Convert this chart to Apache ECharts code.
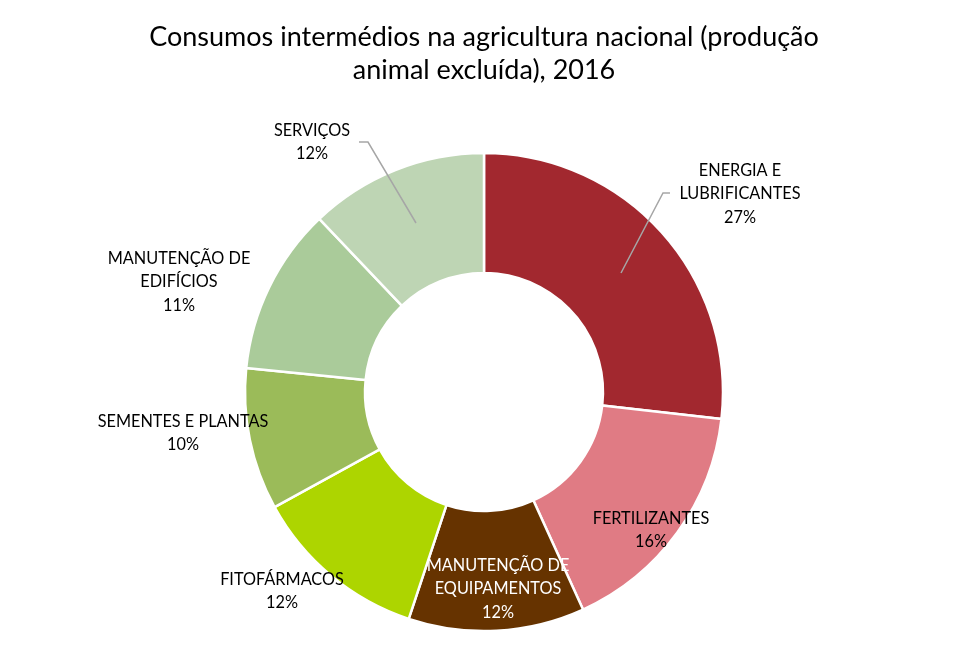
<!DOCTYPE html>
<html>
<head>
<meta charset="utf-8">
<script src="https://cdn.jsdelivr.net/npm/echarts@6/dist/echarts.min.js"></script>
<style>html,body{margin:0;padding:0;background:#fff}#c{width:968px;height:656px}</style>
</head>
<body>
<div id="c"></div>
<script>
const titleText = 'Consumos intermédios na agricultura nacional (produção\nanimal excluída), 2016';
const categories = ['ENERGIA E\nLUBRIFICANTES', 'FERTILIZANTES', 'MANUTENÇÃO DE\nEQUIPAMENTOS', 'FITOFÁRMACOS', 'SEMENTES E PLANTAS', 'MANUTENÇÃO DE\nEDIFÍCIOS', 'SERVIÇOS'];
const values = [26.8, 16.4, 11.9, 11.9, 9.6, 11.3, 12.1];
const colors = ['#A2282F', '#E07B84', '#663300', '#ADD500', '#9BBB59', '#AACB9A', '#BED5B4'];

const labelPos = [
  {x: 740, y: 194, line: [[670, 193], [663, 193], [621, 273]]},
  {x: 651, y: 530},
  {x: 498, y: 589, color: '#ffffff'},
  {x: 282, y: 591},
  {x: 183, y: 433},
  {x: 179, y: 282},
  {x: 312, y: 142, line: [[359, 142], [368, 142], [416, 223]]}
];

const chart = echarts.init(document.getElementById('c'));
const font = 'Lato, "Open Sans", sans-serif';
chart.setOption({
  animation: false,
  title: {
    text: titleText,
    left: 'center',
    top: 16,
    textStyle: {fontFamily: font, fontSize: 27, fontWeight: 'normal', color: '#000', lineHeight: 33}
  },
  graphic: labelPos.filter(l => l.line).map(l => ({
    type: 'polyline',
    z: 100,
    shape: {points: l.line},
    style: {stroke: '#A6A6A6', lineWidth: 1.5, fill: null}
  })),
  series: [{
    type: 'pie',
    center: [484, 392],
    radius: [119, 239],
    startAngle: 90,
    clockwise: true,
    percentPrecision: 0,
    itemStyle: {borderColor: '#fff', borderWidth: 2.5},
    label: {
      show: true,
      position: 'outside',
      formatter: '{b}\n{d}%',
      fontFamily: font,
      fontSize: 16.3,
      lineHeight: 23.5,
      color: '#000',
      align: 'center'
    },
    labelLine: {show: false},
    labelLayout: function (p) {
      const lp = labelPos[p.dataIndex];
      return {x: lp.x, y: lp.y, align: 'center', verticalAlign: 'middle'};
    },
    emphasis: {disabled: true},
    data: categories.map((c, i) => ({
      name: c,
      value: values[i],
      itemStyle: {color: colors[i]},
      label: labelPos[i].color ? {color: labelPos[i].color} : undefined
    }))
  }]
});
</script>
</body>
</html>
